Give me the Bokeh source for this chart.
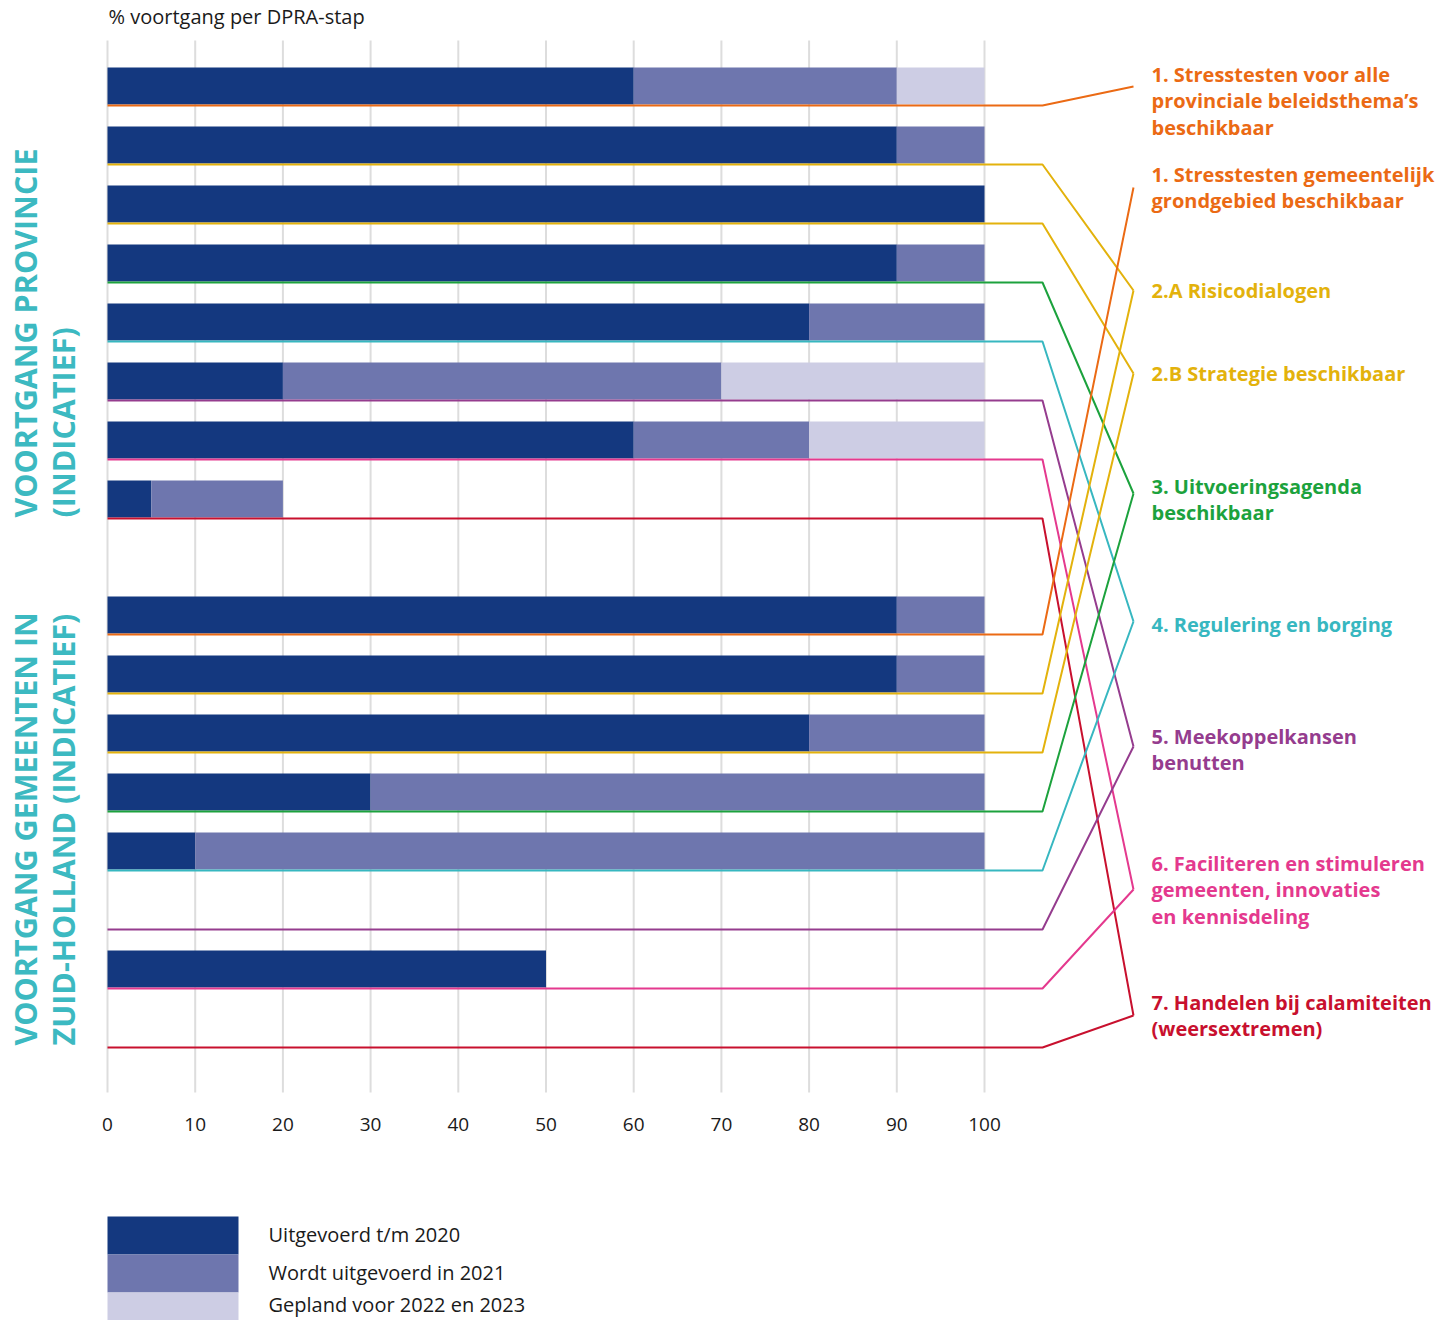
import math
from bokeh.plotting import figure
from bokeh.models import Range1d
from bokeh.core.properties import value
from bokeh.embed import file_html
from bokeh.resources import INLINE

# ---------------- data ----------------
ticks = [0, 10, 20, 30, 40, 50, 60, 70, 80, 90, 100]
tick_labels = [str(t) for t in ticks]

prov_done = [60, 90, 100, 90, 80, 20, 60, 5]
prov_2021 = [30, 10, 0, 10, 20, 50, 20, 15]
prov_plan = [10, 0, 0, 0, 0, 30, 20, 0]

gem_done = [90, 90, 80, 30, 10, 0, 50, 0]
gem_2021 = [10, 10, 20, 70, 90, 0, 0, 0]
gem_plan = [0, 0, 0, 0, 0, 0, 0, 0]

# which step label each row belongs to
prov_step = [0, 2, 3, 4, 5, 6, 7, 8]
gem_step = [1, 2, 3, 4, 5, 6, 7, 8]

step_labels = [
    ["1. Stresstesten voor alle", "provinciale beleidsthema\u2019s", "beschikbaar"],
    ["1. Stresstesten gemeentelijk", "grondgebied beschikbaar"],
    ["2.A Risicodialogen"],
    ["2.B Strategie beschikbaar"],
    ["3. Uitvoeringsagenda", "beschikbaar"],
    ["4. Regulering en borging"],
    ["5. Meekoppelkansen", "benutten"],
    ["6. Faciliteren en stimuleren", "gemeenten, innovaties", "en kennisdeling"],
    ["7. Handelen bij calamiteiten", "(weersextremen)"],
]
step_colors = ["#EB6A14", "#EB6A14", "#E3B20C", "#E3B20C", "#1CA23D",
               "#37B7C0", "#953C8E", "#E4398E", "#C8102E"]

legend_labels = ["Uitgevoerd t/m 2020", "Wordt uitgevoerd in 2021", "Gepland voor 2022 en 2023"]
legend_colors = ["#14387F", "#6E76AE", "#CDCDE4"]

axis_title = "% voortgang per DPRA-stap"
section_titles = [["VOORTGANG PROVINCIE", "(INDICATIEF)"],
                  ["VOORTGANG GEMEENTEN IN", "ZUID-HOLLAND (INDICATIEF)"]]
section_color = "#3CB9C1"

# ---------------- layout (pixel-based y, data-based x) ----------------
W, H = 1446, 1320
PX = 8.77            # pixels per percent
X0 = 107             # pixel position of 0 inside the figure


def xv(px):  # pixel -> x data
    return (px - X0) / PX


ROW = 59
prov_line = [105 + ROW * i for i in range(8)]
gem_line = [634 + ROW * i for i in range(8)]

label_vertex = [86, 187, 290, 373, 493, 621, 746, 889, 1015]
label_first = [74, 174, 290, 373, 486, 624, 736, 863, 1002]
LINE_H = 26.3

p = figure(width=W, height=H, output_backend="svg", toolbar_location=None,
           x_axis_type=None, y_axis_type=None, min_border=0,
           x_range=Range1d(-X0 / PX, (W - X0) / PX),
           y_range=Range1d(H, 0))
p.outline_line_color = None
p.xgrid.visible = False
p.ygrid.visible = False
p.background_fill_color = "white"

# gridlines
p.segment(x0=ticks, x1=ticks, y0=[40] * len(ticks), y1=[1092] * len(ticks),
          line_color="#DDDDDD", line_width=2)

# bars
def draw_bars(lines, done, y21, plan):
    yc = [l - 19.5 for l in lines]
    a = done
    b = [d + e for d, e in zip(done, y21)]
    c = [d + e + f for d, e, f in zip(done, y21, plan)]
    p.hbar(y=yc, left=[0] * 8, right=a, height=37, fill_color=legend_colors[0], line_color=None)
    p.hbar(y=yc, left=a, right=b, height=37, fill_color=legend_colors[1], line_color=None)
    p.hbar(y=yc, left=b, right=c, height=37, fill_color=legend_colors[2], line_color=None)


draw_bars(prov_line, prov_done, prov_2021, prov_plan)
draw_bars(gem_line, gem_done, gem_2021, gem_plan)

# connectors
xa, xb = xv(1042), xv(1133)
xs, ys, cs = [], [], []
for lines, steps in ((prov_line, prov_step), (gem_line, gem_step)):
    for l, s in zip(lines, steps):
        xs.append([0, xa, xb])
        ys.append([l, l, label_vertex[s]])
        cs.append(step_colors[s])
p.multi_line(xs=xs, ys=ys, line_color=cs, line_width=2)

# step labels
tx, ty, tt, tc = [], [], [], []
for lines, first, col in zip(step_labels, label_first, step_colors):
    for k, t in enumerate(lines):
        tx.append(xv(1151))
        ty.append(first + LINE_H * k)
        tt.append(t)
        tc.append(col)
p.text(x=tx, y=ty, text=tt, text_color=tc, text_font=value("Open Sans"),
       text_font_style="bold", text_font_size="20px", text_baseline="middle",
       text_align="left")

# section titles (rotated)
sec_x = [xv(24), xv(62)]
sec_y = [517, 1045]
for (l1, l2), y in zip(section_titles, sec_y):
    p.text(x=sec_x, y=[y, y], text=[l1, l2], angle=math.pi / 2,
           text_color=section_color, text_font=value("Open Sans"),
           text_font_style="bold", text_font_size="30.5px",
           text_baseline="middle", text_align="left")

# axis title and tick labels
p.text(x=[xv(108)], y=[16], text=[axis_title], text_font=value("Open Sans"),
       text_font_size="20px", text_color="#1A1A1A", text_baseline="middle",
       text_align="left")
p.text(x=ticks, y=[1124] * len(ticks), text=tick_labels, text_font=value("Open Sans"),
       text_font_size="19px", text_color="#1A1A1A", text_baseline="middle",
       text_align="center")

# legend
leg_top = [1216, 1254, 1292]
leg_bot = [1254, 1292, 1330]
p.quad(left=[0] * 3, right=[xv(238)] * 3, top=leg_top, bottom=leg_bot,
       fill_color=legend_colors, line_color=None)
p.text(x=[xv(268)] * 3, y=[1234, 1272, 1304], text=legend_labels,
       text_font=value("Open Sans"), text_font_size="20px", text_color="#1A1A1A",
       text_baseline="middle", text_align="left")

open("out.html", "w").write(file_html(p, INLINE))
